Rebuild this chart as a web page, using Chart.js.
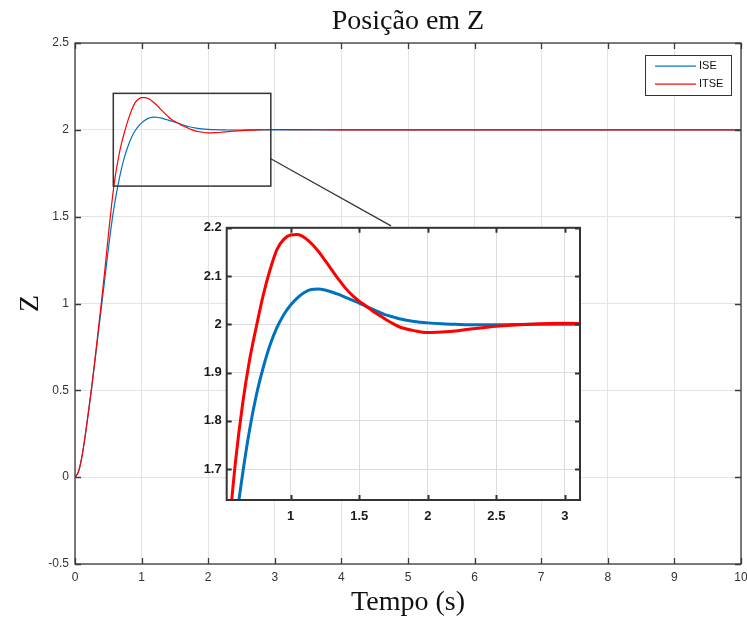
<!DOCTYPE html>
<html>
<head>
<meta charset="utf-8">
<script src="https://cdn.jsdelivr.net/npm/chart.js@4.4.0/dist/chart.umd.min.js"></script>
<style>
  html, body { margin: 0; padding: 0; background: #fff; }
  #wrap { position: relative; width: 747px; height: 617px; }
  #mainChart { position: absolute; left: 0; top: 0; }
  #zoomChart { position: absolute; left: 160px; top: 215px; }
</style>
</head>
<body>
<div id="wrap">
  <canvas id="mainChart" width="747" height="617"></canvas>
  <canvas id="zoomChart" width="430" height="320"></canvas>
</div>
<script>
// time axis (s)
const timeS = [0, 0.05, 0.1, 0.15, 0.2, 0.25, 0.3, 0.35, 0.4, 0.45, 0.5, 0.55, 0.6, 0.65, 0.7, 0.75,
    0.8, 0.85, 0.9, 0.95, 1.0, 1.05, 1.1, 1.15, 1.2, 1.25, 1.3, 1.35, 1.4, 1.45, 1.5, 1.55, 1.6, 1.65,
    1.7, 1.75, 1.8, 1.9, 2.0, 2.1, 2.2, 2.3, 2.4, 2.5, 2.75, 3.0, 3.5, 4, 5, 6, 7, 8, 9, 10];

// ISE response
const iseZ = [0, 0.03, 0.11, 0.23, 0.37, 0.51, 0.67, 0.83, 0.99, 1.15, 1.31, 1.46, 1.585, 1.69, 1.78, 1.853,
    1.91, 1.957, 1.993, 2.02, 2.04, 2.055, 2.066, 2.072, 2.073, 2.071, 2.067, 2.062, 2.056, 2.05, 2.044, 2.037, 2.031, 2.025,
    2.019, 2.015, 2.011, 2.006, 2.003, 2.001, 2.0, 1.999, 1.999, 1.999, 2.0, 2.0, 2.0, 2.0, 2.0, 2.0, 2.0, 2.0, 2.0, 2.0];

// ITSE response
const itseZ = [0, 0.03, 0.11, 0.23, 0.37, 0.52, 0.68, 0.85, 1.02, 1.2, 1.39, 1.57, 1.72, 1.835, 1.925, 1.995,
    2.06, 2.113, 2.155, 2.176, 2.185, 2.186, 2.18, 2.168, 2.152, 2.133, 2.113, 2.093, 2.075, 2.06, 2.048, 2.038, 2.027, 2.018,
    2.009, 2.001, 1.994, 1.987, 1.983, 1.984, 1.986, 1.99, 1.993, 1.996, 2.0, 2.002, 2.001, 2.0, 2.0, 2.0, 2.0, 2.0, 2.0, 2.0];

const seriesNames = ['ISE', 'ITSE'];
const seriesColors = ['#0072BD', '#FF0000'];

// zoom window drawn on the main axes, and the connector line (data units of the main axes)
const zoomBoxT = [0.575, 2.94];
const zoomBoxZ = [1.676, 2.21];
const connectorT = [2.94, 4.745];
const connectorZ = [1.833, 1.447];

// inset axis ranges
const insetT = [0.534, 3.11];
const insetZ = [1.636, 2.2];

const fmt = v => String(parseFloat(Number(v).toFixed(2)));

function makeDatasets(width) {
    return [iseZ, itseZ].map((vals, i) => ({
        label: seriesNames[i],
        data: timeS.map((t, k) => ({ x: t, y: vals[k] })),
        borderColor: seriesColors[i],
        borderWidth: width,
        pointRadius: 0,
        cubicInterpolationMode: 'monotone',
        fill: false,
        order: 2 - i
    }));
}

// box around the axes with inward tick marks, like the original figure
const frameTicks = {
    id: 'frameTicks',
    afterDatasetsDraw(chart, args, opts) {
        const { ctx, chartArea: a, scales: { x, y } } = chart;
        ctx.save();
        ctx.strokeStyle = opts.color;
        ctx.lineWidth = opts.width;
        ctx.beginPath();
        x.ticks.forEach(t => {
            const px = Math.round(x.getPixelForValue(t.value)) + 0.5;
            ctx.moveTo(px, a.bottom); ctx.lineTo(px, a.bottom - opts.len);
            ctx.moveTo(px, a.top); ctx.lineTo(px, a.top + opts.len);
        });
        y.ticks.forEach(t => {
            const py = Math.round(y.getPixelForValue(t.value)) + 0.5;
            ctx.moveTo(a.left, py); ctx.lineTo(a.left + opts.len, py);
            ctx.moveTo(a.right, py); ctx.lineTo(a.right - opts.len, py);
        });
        ctx.stroke();
        ctx.strokeRect(a.left, a.top, a.right - a.left, a.bottom - a.top);
        ctx.restore();
    }
};

// white background for the inset's plot area only
const plotBg = {
    id: 'plotBg',
    beforeDraw(chart) {
        const { ctx, chartArea: a } = chart;
        ctx.save();
        ctx.fillStyle = '#fff';
        ctx.fillRect(a.left, a.top, a.right - a.left, a.bottom - a.top);
        ctx.restore();
    }
};

// zoom rectangle + connector line on the main axes
const zoomMarker = {
    id: 'zoomMarker',
    afterDatasetsDraw(chart) {
        const { ctx, scales: { x, y } } = chart;
        const x0 = x.getPixelForValue(zoomBoxT[0]), x1 = x.getPixelForValue(zoomBoxT[1]);
        const y0 = y.getPixelForValue(zoomBoxZ[1]), y1 = y.getPixelForValue(zoomBoxZ[0]);
        ctx.save();
        ctx.strokeStyle = '#333';
        ctx.lineWidth = 1.5;
        ctx.strokeRect(x0, y0, x1 - x0, y1 - y0);
        ctx.lineWidth = 1.2;
        ctx.beginPath();
        ctx.moveTo(x.getPixelForValue(connectorT[0]), y.getPixelForValue(connectorZ[0]));
        ctx.lineTo(x.getPixelForValue(connectorT[1]), y.getPixelForValue(connectorZ[1]));
        ctx.stroke();
        ctx.restore();
    }
};

// boxed legend in the upper right corner of the axes
const boxLegend = {
    id: 'boxLegend',
    afterDraw(chart) {
        const { ctx, chartArea: a } = chart;
        const w = 86, h = 40;
        const lx = Math.round(a.right - 10 - w), ly = Math.round(a.top + 12);
        ctx.save();
        ctx.fillStyle = '#fff';
        ctx.fillRect(lx, ly, w, h);
        ctx.strokeStyle = '#333';
        ctx.lineWidth = 1;
        ctx.strokeRect(lx + 0.5, ly + 0.5, w, h);
        ctx.font = '11px "Liberation Sans", Arial, sans-serif';
        ctx.textBaseline = 'middle';
        seriesNames.forEach((name, i) => {
            const yy = ly + 11 + i * 17.5;
            ctx.fillStyle = seriesColors[i];
            ctx.fillRect(lx + 10, Math.round(yy) - 0.5, 41, 1.2);
            ctx.fillStyle = '#111';
            ctx.fillText(name, lx + 54, yy);
        });
        ctx.restore();
    }
};

const serif = '"Liberation Serif", "Times New Roman", serif';
const sans = '"Liberation Sans", Arial, sans-serif';

new Chart(document.getElementById('mainChart'), {
    type: 'line',
    data: { datasets: makeDatasets(1.2) },
    plugins: [frameTicks, zoomMarker, boxLegend],
    options: {
        responsive: false,
        animation: false,
        layout: { padding: { left: 0, right: 0, top: 0, bottom: 0 } },
        plugins: {
            legend: { display: false },
            tooltip: { enabled: false },
            title: {
                display: true,
                fullSize: false,
                text: 'Posição em Z',
                color: '#111',
                font: { family: serif, size: 28, weight: 'normal', lineHeight: 1.2 },
                padding: { top: 5, bottom: 4.4 }
            },
            frameTicks: { color: '#3a3a3a', width: 1.3, len: 6 }
        },
        scales: {
            x: {
                type: 'linear',
                min: 0, max: 10,
                afterFit: s => { s.height = 53; s.paddingRight = 6; },
                ticks: { stepSize: 1, color: '#333', padding: 6, font: { family: sans, size: 12 } },
                grid: { color: '#e4e4e4', drawTicks: false },
                border: { display: false },
                title: {
                    display: true, text: 'Tempo (s)', color: '#111',
                    font: { family: serif, size: 28, lineHeight: 1 },
                    padding: { top: 0, bottom: 0 }
                }
            },
            y: {
                min: -0.5, max: 2.5,
                afterFit: s => { s.width = 75; },
                ticks: { stepSize: 0.5, color: '#333', padding: 6, font: { family: sans, size: 12 }, callback: fmt },
                grid: { color: '#e4e4e4', drawTicks: false },
                border: { display: false },
                title: {
                    display: true, text: 'Z', color: '#111',
                    font: { family: serif, size: 28, lineHeight: 1 },
                    padding: { top: 17, bottom: 0 }
                }
            }
        }
    }
});

new Chart(document.getElementById('zoomChart'), {
    type: 'line',
    data: { datasets: makeDatasets(3) },
    plugins: [plotBg, frameTicks],
    options: {
        responsive: false,
        animation: false,
        layout: { padding: { left: 0, right: 10, top: 10, bottom: 0 } },
        plugins: {
            legend: { display: false },
            tooltip: { enabled: false },
            frameTicks: { color: '#333', width: 2, len: 5 }
        },
        scales: {
            x: {
                type: 'linear',
                min: insetT[0], max: insetT[1],
                afterFit: s => { s.height = 35; },
                ticks: { stepSize: 0.5, includeBounds: false, color: '#1a1a1a', padding: 9,
                    font: { family: sans, size: 13, weight: 'bold' }, callback: fmt },
                grid: { color: '#dcdcdc', drawTicks: false },
                border: { display: false }
            },
            y: {
                min: insetZ[0], max: insetZ[1],
                afterFit: s => { s.width = 66.7; },
                ticks: { stepSize: 0.1, includeBounds: false, color: '#1a1a1a', padding: 5,
                    font: { family: sans, size: 13, weight: 'bold' }, callback: fmt },
                grid: { color: '#dcdcdc', drawTicks: false },
                border: { display: false }
            }
        }
    }
});
</script>
</body>
</html>
